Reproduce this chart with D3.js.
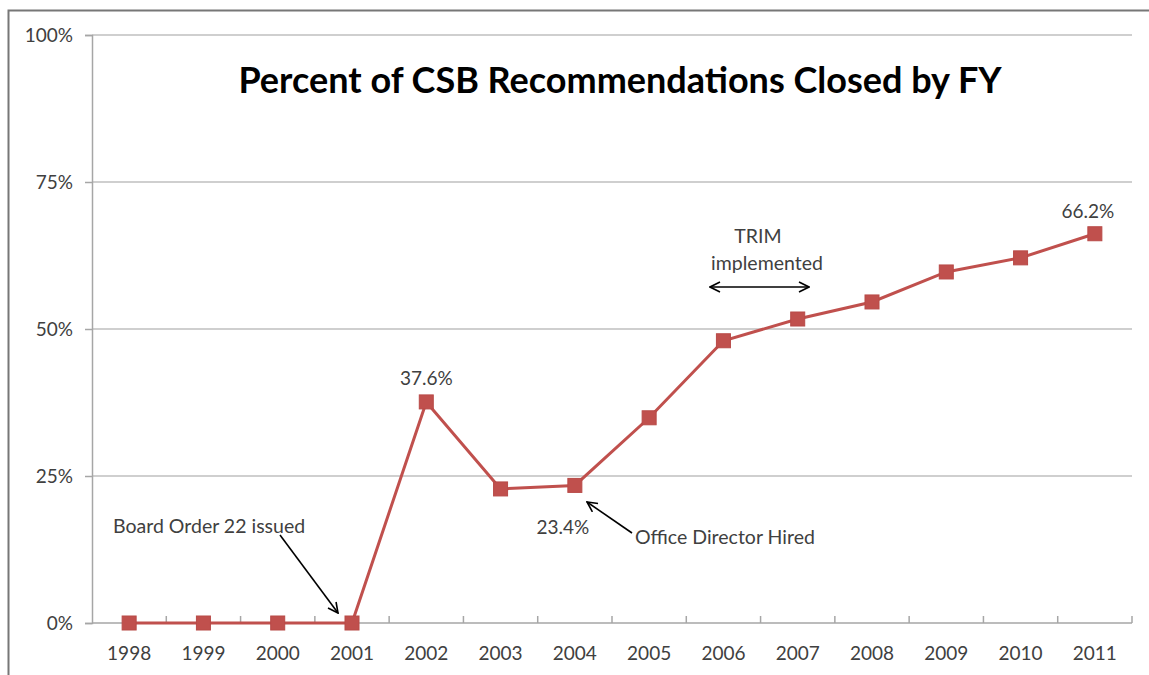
<!DOCTYPE html>
<html>
<head>
<meta charset="utf-8">
<script src="https://cdn.jsdelivr.net/npm/d3@7"></script>
<style>
  html, body { margin: 0; padding: 0; background: #fff; overflow: hidden; }
  svg { display: block; }
  text { font-family: Lato, "Open Sans", sans-serif; }
</style>
</head>
<body>
<svg width="1149" height="675"></svg>
<script>
// data
const years = ["1998", "1999", "2000", "2001", "2002", "2003", "2004", "2005", "2006", "2007", "2008", "2009", "2010", "2011"];
const pctClosed = [0, 0, 0, 0, 0.376, 0.228, 0.234, 0.349, 0.480, 0.517, 0.546, 0.597, 0.621, 0.662];
const yTicks = [0, 0.25, 0.5, 0.75, 1];
const pointLabels = [
  { year: "2002", text: "37.6%", dy: -17 },
  { year: "2004", text: "23.4%", dx: -12, dy: 49 },
  { year: "2011", text: "66.2%", dx: -7, dy: -16 }
];

const svg = d3.select("svg");
const margin = { top: 35, right: 17, bottom: 52, left: 92 };
const width = +svg.attr("width");
const height = +svg.attr("height");
const innerWidth = width - margin.left - margin.right;
const innerHeight = height - margin.top - margin.bottom;

// outer frame (left and top only visible)
svg.append("path")
  .attr("d", "M8.5,675 V10.5 H1149")
  .attr("fill", "none")
  .attr("stroke", "#777")
  .attr("stroke-width", 2);

const g = svg.append("g").attr("transform", "translate(" + margin.left + "," + margin.top + ")");

const x = d3.scaleBand().domain(years).range([0, innerWidth]);
const y = d3.scaleLinear().domain([0, 1]).range([innerHeight, 0]);
const cx = d => x(d) + x.bandwidth() / 2;

// grid
g.append("g")
  .selectAll("line")
  .data(yTicks.filter(d => d > 0))
  .enter()
  .append("line")
  .attr("x1", 0)
  .attr("x2", innerWidth)
  .attr("y1", d => y(d))
  .attr("y2", d => y(d))
  .attr("stroke", "#bfbfbf")
  .attr("stroke-width", 1.5);

// y axis
const yaxis = d3.axisLeft(y).tickValues(yTicks).tickFormat(d3.format(".0%")).tickSize(7).tickPadding(12);
const yg = g.append("g").call(yaxis);
yg.select(".domain").attr("stroke", "#a6a6a6").attr("stroke-width", 1.5);
yg.selectAll(".tick line").attr("stroke", "#a6a6a6").attr("stroke-width", 1.5);
yg.selectAll("text").attr("font-size", 19).attr("fill", "#404040").attr("font-family", "Lato");

// x axis: category ticks at band boundaries, pointing up
const xg = g.append("g").attr("transform", "translate(0," + innerHeight + ")");
xg.append("line")
  .attr("x1", 0).attr("x2", innerWidth)
  .attr("stroke", "#a6a6a6").attr("stroke-width", 1.5);
xg.selectAll(".xt")
  .data(years.slice(1).concat(["end"]))
  .enter()
  .append("line")
  .attr("x1", d => d === "end" ? innerWidth : x(d))
  .attr("x2", d => d === "end" ? innerWidth : x(d))
  .attr("y1", 0).attr("y2", -7)
  .attr("stroke", "#a6a6a6").attr("stroke-width", 1.5);
xg.selectAll(".xl")
  .data(years)
  .enter()
  .append("text")
  .attr("x", d => cx(d))
  .attr("y", 37)
  .attr("text-anchor", "middle")
  .attr("font-size", 19)
  .attr("fill", "#404040")
  .text(d => d);

// line + markers
const line = d3.line()
  .x((d, i) => cx(years[i]))
  .y(d => y(d));
g.append("path")
  .datum(pctClosed)
  .attr("d", line)
  .attr("fill", "none")
  .attr("stroke", "#c0504d")
  .attr("stroke-width", 3);
g.selectAll(".pt")
  .data(pctClosed)
  .enter()
  .append("rect")
  .attr("x", (d, i) => cx(years[i]) - 7)
  .attr("y", d => y(d) - 7)
  .attr("width", 14)
  .attr("height", 14)
  .attr("fill", "#c0504d")
  .attr("stroke", "#b84a47")
  .attr("stroke-width", 1);

// data labels
g.selectAll(".pl")
  .data(pointLabels)
  .enter()
  .append("text")
  .attr("x", d => cx(d.year) + (d.dx || 0))
  .attr("y", d => y(pctClosed[years.indexOf(d.year)]) + d.dy)
  .attr("text-anchor", "middle")
  .attr("font-size", 19)
  .attr("fill", "#404040")
  .text(d => d.text);

// title
svg.append("text")
  .attr("x", 620)
  .attr("y", 93)
  .attr("text-anchor", "middle")
  .attr("font-size", 36)
  .attr("font-weight", "bold")
  .attr("fill", "#000")
  .text("Percent of CSB Recommendations Closed by FY");

// arrow markers
const defs = svg.append("defs");
defs.append("marker")
  .attr("id", "head")
  .attr("viewBox", "0 0 12 12")
  .attr("refX", 11).attr("refY", 6)
  .attr("markerWidth", 12).attr("markerHeight", 12)
  .attr("markerUnits", "userSpaceOnUse")
  .attr("orient", "auto-start-reverse")
  .append("path")
  .attr("d", "M1,1 L11,6 L1,11")
  .attr("fill", "none")
  .attr("stroke", "#000")
  .attr("stroke-width", 1.6);

// annotations
const notes = svg.append("g").attr("font-size", 19.5).attr("fill", "#404040");
notes.append("text").attr("x", 113).attr("y", 533).text("Board Order 22 issued");
notes.append("text").attr("x", 635).attr("y", 544).text("Office Director Hired");
notes.append("text").attr("x", 758).attr("y", 243).attr("text-anchor", "middle").text("TRIM");
notes.append("text").attr("x", 767).attr("y", 270).attr("text-anchor", "middle").text("implemented");

svg.append("line")
  .attr("x1", 280).attr("y1", 535).attr("x2", 338).attr("y2", 613)
  .attr("stroke", "#000").attr("stroke-width", 1.6)
  .attr("marker-end", "url(#head)");
svg.append("line")
  .attr("x1", 632).attr("y1", 533).attr("x2", 587).attr("y2", 502)
  .attr("stroke", "#000").attr("stroke-width", 1.6)
  .attr("marker-end", "url(#head)");
svg.append("line")
  .attr("x1", 710).attr("y1", 287).attr("x2", 809).attr("y2", 287)
  .attr("stroke", "#000").attr("stroke-width", 1.6)
  .attr("marker-start", "url(#head)")
  .attr("marker-end", "url(#head)");
</script>
</body>
</html>
